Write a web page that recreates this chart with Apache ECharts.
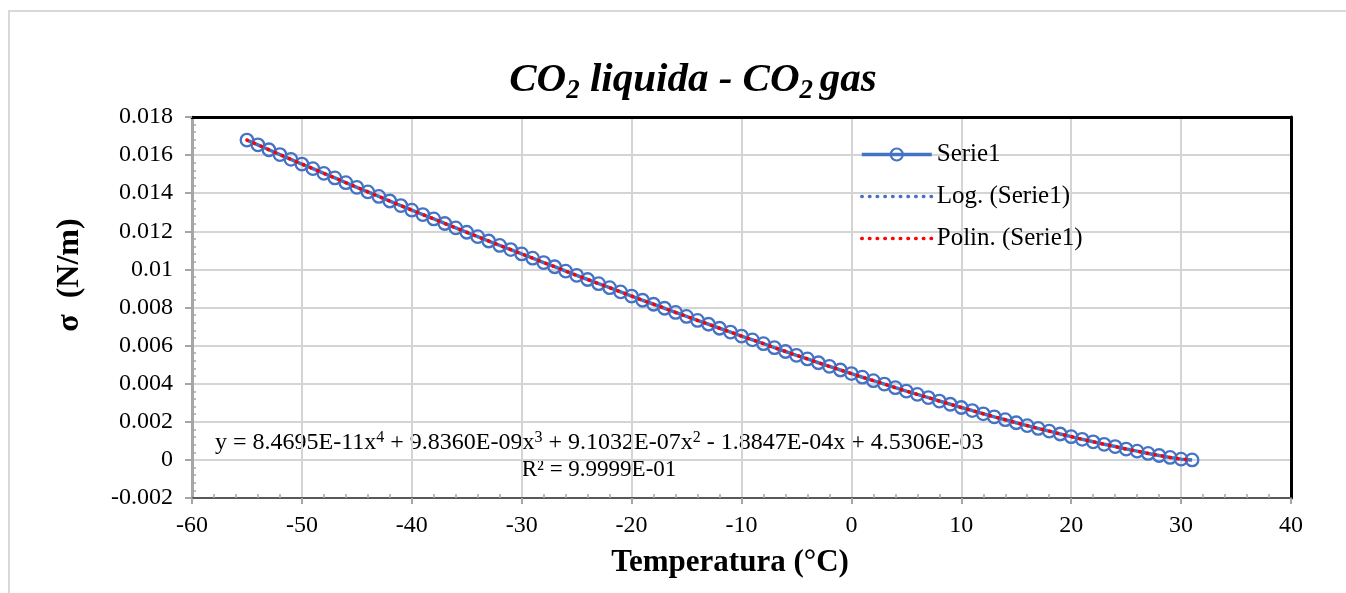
<!DOCTYPE html>
<html>
<head>
<meta charset="utf-8">
<script src="https://cdn.jsdelivr.net/npm/echarts@6/dist/echarts.min.js"></script>
<style>
  html, body { margin: 0; padding: 0; background: #fff; }
  #chart { width: 1346px; height: 593px; }
</style>
</head>
<body>
<div id="chart"></div>
<script>
// Temperature (°C) and surface tension sigma (N/m) of liquid CO2 against its vapour
const temps = [
  -55, -54, -53, -52, -51, -50, -49, -48, -47, -46,
  -45, -44, -43, -42, -41, -40, -39, -38, -37, -36,
  -35, -34, -33, -32, -31, -30, -29, -28, -27, -26,
  -25, -24, -23, -22, -21, -20, -19, -18, -17, -16,
  -15, -14, -13, -12, -11, -10, -9, -8, -7, -6,
  -5, -4, -3, -2, -1, 0, 1, 2, 3, 4,
  5, 6, 7, 8, 9, 10, 11, 12, 13, 14,
  15, 16, 17, 18, 19, 20, 21, 22, 23, 24,
  25, 26, 27, 28, 29, 30, 31
];
const sigma = [
  0.01679, 0.01654, 0.01628, 0.01603, 0.01578, 0.01553, 0.01529, 0.01504, 0.01480, 0.01455,
  0.01431, 0.01407, 0.01383, 0.01359, 0.01335, 0.01311, 0.01288, 0.01265, 0.01241, 0.01218,
  0.01195, 0.01172, 0.01149, 0.01126, 0.01104, 0.01081, 0.01059, 0.01036, 0.01014, 0.00991,
  0.00969, 0.00947, 0.00925, 0.00904, 0.00882, 0.00860, 0.00838, 0.00817, 0.00796, 0.00774,
  0.00753, 0.00732, 0.00712, 0.00691, 0.00671, 0.00650, 0.00630, 0.00610, 0.00589, 0.00569,
  0.00549, 0.00530, 0.00510, 0.00491, 0.00472, 0.00453, 0.00434, 0.00416, 0.00398, 0.00379,
  0.00361, 0.00344, 0.00327, 0.00309, 0.00292, 0.00275, 0.00259, 0.00242, 0.00226, 0.00211,
  0.00195, 0.00180, 0.00165, 0.00151, 0.00136, 0.00122, 0.00108, 0.00095, 0.00082, 0.00070,
  0.00057, 0.00046, 0.00034, 0.00023, 0.00013, 0.00004, 0.00000
];
const seriesNames = ['Serie1', 'Log. (Serie1)', 'Polin. (Serie1)'];
const xRange = { min: -60, max: 40, interval: 10 };
const yRange = { min: -0.002, max: 0.018, interval: 0.002 };

const points = temps.map((t, i) => [t, sigma[i]]);

const FONT = '"Liberation Serif", "Times New Roman", serif';
const BLUE = '#4472C4';
const RED = '#FF0000';
const GRID_LINE = '#d4d4d4';
const AXIS_GREY = '#a6a6a6';
const DOTS = [0.5, 7.2];

const chart = echarts.init(document.getElementById('chart'), null, { renderer: 'canvas' });

const gridPos = { left: 192, right: 55, top: 117, bottom: 95 };

const option = {
  backgroundColor: '#ffffff',
  animation: false,
  grid: gridPos,
  legend: {
    orient: 'vertical',
    left: 860,
    top: 142,
    padding: 0,
    itemWidth: 70,
    itemHeight: 15,
    itemGap: 17,
    data: [
      { name: seriesNames[0], lineStyle: { width: 3.5 }, itemStyle: { borderWidth: 2.2 } },
      { name: seriesNames[1], itemStyle: { opacity: 0 }, lineStyle: { width: 3.5, type: DOTS, cap: 'round' } },
      { name: seriesNames[2], itemStyle: { opacity: 0 }, lineStyle: { width: 3.5, type: DOTS, cap: 'round' } }
    ],
    textStyle: { fontFamily: FONT, fontSize: 25, color: '#000' }
  },
  xAxis: [
    {
      type: 'value', position: 'bottom', ...xRange,
      axisLine: { show: true, onZero: false, lineStyle: { color: '#595959', width: 2 } },
      axisTick: { show: true, inside: false, length: 6, lineStyle: { color: AXIS_GREY, width: 2 } },
      axisLabel: { color: '#000', fontFamily: FONT, fontSize: 24, margin: 16 },
      splitLine: { show: true, lineStyle: { color: GRID_LINE, width: 2 } }
    },
    {
      // minor ticks along the bottom edge, pointing into the plot
      type: 'value', position: 'bottom', ...xRange,
      axisLine: { show: false, onZero: false },
      axisTick: { show: false, inside: true },
      minorTick: { show: true, splitNumber: 5, length: 4, lineStyle: { color: AXIS_GREY, width: 1.5 } },
      axisLabel: { show: false },
      splitLine: { show: false }
    },
    {
      // plot frame, top edge
      type: 'value', position: 'top', ...xRange,
      axisLine: { show: true, onZero: false, lineStyle: { color: '#000', width: 3 } },
      axisTick: { show: false }, axisLabel: { show: false }, splitLine: { show: false }
    }
  ],
  yAxis: [
    {
      type: 'value', position: 'left', ...yRange,
      axisLine: { show: true, onZero: false, lineStyle: { color: AXIS_GREY, width: 3 } },
      axisTick: { show: true, inside: false, length: 7, lineStyle: { color: AXIS_GREY, width: 2 } },
      axisLabel: {
        color: '#000', fontFamily: FONT, fontSize: 24, margin: 19,
        formatter: v => String(+v.toFixed(3))
      },
      splitLine: { show: true, lineStyle: { color: GRID_LINE, width: 2 } }
    },
    {
      // minor ticks along the left edge, pointing into the plot
      type: 'value', position: 'left', ...yRange,
      axisLine: { show: false, onZero: false },
      axisTick: { show: false, inside: true },
      minorTick: { show: true, splitNumber: 5, length: 4, lineStyle: { color: AXIS_GREY, width: 1.5 } },
      axisLabel: { show: false },
      splitLine: { show: false }
    },
    {
      // plot frame, right edge
      type: 'value', position: 'right', ...yRange,
      axisLine: { show: true, onZero: false, lineStyle: { color: '#000', width: 3 } },
      axisTick: { show: false }, axisLabel: { show: false }, splitLine: { show: false }
    }
  ],
  series: [
    {
      name: seriesNames[0],
      type: 'line',
      xAxisIndex: 0, yAxisIndex: 0,
      data: points,
      color: BLUE,
      symbol: 'circle',
      symbolSize: 12.5,
      showSymbol: true,
      lineStyle: { color: BLUE, width: 3.5 },
      itemStyle: { color: 'rgba(255,255,255,0)', borderColor: BLUE, borderWidth: 2.3 },
      z: 2
    },
    {
      name: seriesNames[1],
      type: 'line',
      xAxisIndex: 0, yAxisIndex: 0,
      data: [],
      color: BLUE,
      symbol: 'none',
      lineStyle: { color: BLUE, width: 3.5, type: DOTS, cap: 'round' },
      z: 3
    },
    {
      name: seriesNames[2],
      type: 'line',
      xAxisIndex: 0, yAxisIndex: 0,
      data: points,
      color: RED,
      symbol: 'none',
      lineStyle: { color: RED, width: 3.5, type: DOTS, cap: 'round' },
      z: 4
    }
  ],
  graphic: [
    {
      type: 'rect',
      shape: { x: 9, y: 11, width: 1400, height: 700 },
      style: { fill: 'none', stroke: '#d9d9d9', lineWidth: 2 },
      silent: true, z: -10
    },
    {
      type: 'text',
      x: 693, y: 80,
      style: {
        text: '{m|CO}{s|2}{m| liquida - CO}{s|2 }{m|gas}',
        align: 'center', verticalAlign: 'middle',
        rich: {
          m: { fontFamily: FONT, fontSize: 41, fontWeight: 'bold', fontStyle: 'italic', fill: '#000' },
          s: { fontFamily: FONT, fontSize: 27, fontWeight: 'bold', fontStyle: 'italic', fill: '#000', padding: [22, 0, 0, 0] }
        }
      }
    },
    {
      type: 'text',
      x: 70, y: 275,
      rotation: Math.PI / 2,
      style: {
        text: 'σ  (N/m)',
        align: 'center', verticalAlign: 'middle',
        fontFamily: FONT, fontSize: 32, fontWeight: 'bold', fill: '#000'
      }
    },
    {
      type: 'text',
      x: 730, y: 563,
      style: {
        text: 'Temperatura (°C)',
        align: 'center', verticalAlign: 'middle',
        fontFamily: FONT, fontSize: 31, fontWeight: 'bold', fill: '#000'
      }
    },
    {
      type: 'text',
      x: 215, y: 443,
      style: {
        text: '{t|y = 8.4695E-11x}{p|4}{t| + 9.8360E-09x}{p|3}{t| + 9.1032E-07x}{p|2}{t| - 1.8847E-04x + 4.5306E-03}',
        align: 'left', verticalAlign: 'middle',
        rich: {
          t: { fontFamily: FONT, fontSize: 24, fill: '#000' },
          p: { fontFamily: FONT, fontSize: 16, fill: '#000', padding: [0, 0, 11, 0] }
        }
      }
    },
    {
      type: 'text',
      x: 599, y: 470,
      style: {
        text: 'R² = 9.9999E-01',
        align: 'center', verticalAlign: 'middle',
        fontFamily: FONT, fontSize: 23, fill: '#000'
      }
    }
  ]
};

chart.setOption(option);
</script>
</body>
</html>
